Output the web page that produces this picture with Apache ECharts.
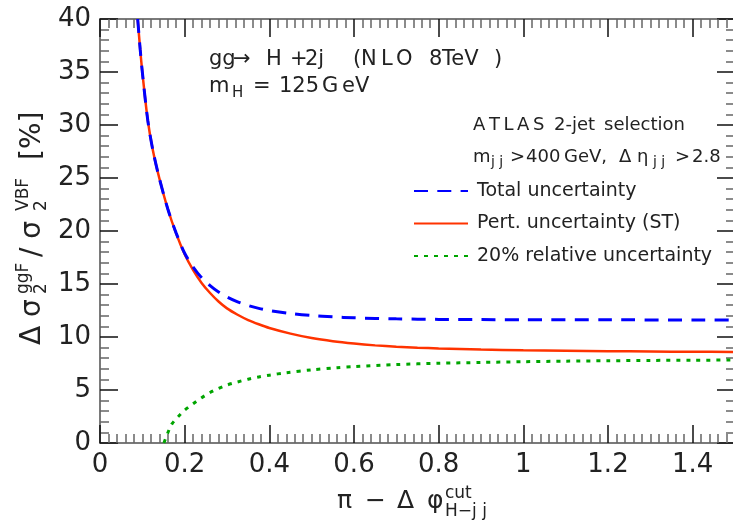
<!DOCTYPE html>
<html>
<head>
<meta charset="utf-8">
<script src="https://cdn.jsdelivr.net/npm/echarts@6/dist/echarts.min.js"></script>
<style>
  html, body { margin: 0; padding: 0; background: #fff; }
  #chart { width: 733px; height: 525px; }
</style>
</head>
<body>
<div id="chart"></div>
<script>
// Perturbative (scale) uncertainty, ST method
const xPert = [0.089, 0.095, 0.101, 0.113, 0.125, 0.140, 0.160, 0.180, 0.200, 0.220, 0.240, 0.260, 0.280, 0.300,
  0.325, 0.350, 0.375, 0.400, 0.450, 0.500, 0.550, 0.600, 0.650, 0.700, 0.750, 0.800, 0.900, 1.000, 1.100, 1.200, 1.300, 1.400, 1.500];
const yPert = [40.0, 37.1, 34.6, 30.4, 27.6, 25.0, 22.1, 19.75, 17.8, 16.3, 15.1, 14.15, 13.35, 12.7,
  12.1, 11.6, 11.2, 10.85, 10.32, 9.9, 9.6, 9.38, 9.21, 9.08, 8.99, 8.92, 8.82, 8.75, 8.70, 8.66, 8.63, 8.61, 8.59];

// Total uncertainty
const xTotal = [0.089, 0.095, 0.101, 0.113, 0.125, 0.140, 0.160, 0.180, 0.200, 0.220, 0.240, 0.260, 0.280, 0.300,
  0.325, 0.350, 0.375, 0.400, 0.450, 0.500, 0.550, 0.600, 0.700, 0.800, 0.900, 1.000, 1.200, 1.500];
const yTotal = [40.0, 37.1, 34.6, 30.4, 27.6, 25.0, 22.1, 19.8, 17.9, 16.6, 15.6, 14.85, 14.25, 13.78,
  13.32, 12.97, 12.7, 12.5, 12.22, 12.03, 11.9, 11.81, 11.71, 11.66, 11.64, 11.63, 11.62, 11.6];

// 20% relative uncertainty
const xRel = [0.151, 0.160, 0.170, 0.185, 0.200, 0.220, 0.240, 0.260, 0.280, 0.300, 0.325, 0.350, 0.375, 0.400,
  0.440, 0.500, 0.560, 0.600, 0.700, 0.800, 0.900, 1.000, 1.100, 1.200, 1.300, 1.400, 1.500];
const yRel = [0.0, 0.94, 1.8, 2.5, 3.1, 3.7, 4.27, 4.76, 5.15, 5.47, 5.76, 6.02, 6.23, 6.4,
  6.63, 6.9, 7.1, 7.2, 7.4, 7.52, 7.6, 7.67, 7.72, 7.76, 7.79, 7.81, 7.83];

const xTickValues = [0, 0.2, 0.4, 0.6, 0.8, 1, 1.2, 1.4];
const xTickLabels = ['0', '0.2', '0.4', '0.6', '0.8', '1', '1.2', '1.4'];
const yTickValues = [0, 5, 10, 15, 20, 25, 30, 35, 40];
const yTickLabels = ['0', '5', '10', '15', '20', '25', '30', '35', '40'];

const seriesNames = ['Total uncertainty', 'Pert. uncertainty (ST)', '20% relative uncertainty'];

const FONT = 'DejaVu Sans';
const TEXT = '#222';

function pairs(xs, ys) { return xs.map((x, i) => [x, ys[i]]); }

function labelFor(values, labels) {
  return function (v) {
    for (let i = 0; i < values.length; i++) {
      if (Math.abs(values[i] - v) < 1e-9) return labels[i];
    }
    return '';
  };
}

function xAxisDef(pos, showLabel) {
  return {
    type: 'value', position: pos, min: 0, max: 1.5, interval: 0.2,
    axisLine: { show: true, onZero: false, lineStyle: { color: '#7a7a7a', width: 2 } },
    axisTick: { show: true, inside: true, length: 18, lineStyle: { color: '#111', width: 1.5 } },
    minorTick: { show: true, splitNumber: 10, length: 9, lineStyle: { color: '#666', width: 1.5 } },
    splitLine: { show: false }, minorSplitLine: { show: false },
    axisLabel: {
      show: showLabel, showMaxLabel: false, margin: 9, color: TEXT,
      fontFamily: FONT, fontSize: 26, formatter: labelFor(xTickValues, xTickLabels)
    }
  };
}

function yAxisDef(pos, showLabel) {
  return {
    type: 'value', position: pos, min: 0, max: 40, interval: 5,
    axisLine: { show: true, onZero: false, lineStyle: { color: '#7a7a7a', width: 2 } },
    axisTick: { show: true, inside: true, length: 18, lineStyle: { color: '#111', width: 1.5 } },
    minorTick: { show: true, splitNumber: 5, length: 9, lineStyle: { color: '#666', width: 1.5 } },
    splitLine: { show: false }, minorSplitLine: { show: false },
    axisLabel: {
      show: showLabel, margin: 9, color: TEXT,
      fontFamily: FONT, fontSize: 26, formatter: labelFor(yTickValues, yTickLabels)
    }
  };
}

const fontOf = (s) => s + 'px "' + FONT + '"';

// a text piece placed by its left edge and its baseline
function piece(text, x, baseline, size) {
  return {
    type: 'text', x: x, y: baseline - 0.35 * size,
    style: { text: text, font: fontOf(size), fill: TEXT, verticalAlign: 'middle', align: 'left' }
  };
}

const annotations = [
  // process
  piece('gg', 209, 66.7, 21), piece('→', 233, 66.7, 21), piece('H', 266, 66.7, 21),
  piece('+', 290, 66.7, 21), piece('2j', 305, 66.7, 21), piece('(', 353, 66.7, 21),
  piece('N', 361, 66.7, 21), piece('L', 381, 66.7, 21), piece('O', 396, 66.7, 21),
  piece('8', 429, 66.7, 21), piece('TeV', 442, 66.7, 21), piece(')', 494, 66.7, 21),
  piece('m', 209, 94, 21), piece('H', 232, 98.5, 15), piece('=', 253, 94, 21),
  piece('125', 279, 94, 21), piece('G', 322, 94, 21), piece('eV', 342, 94, 21),
  // selection
  piece('A\u2009T\u2009L\u2009A\u2009S', 473, 131.7, 18), piece('2-jet', 554, 131.7, 18), piece('selection', 604, 131.7, 18),
  piece('m', 473, 163.3, 18), piece('j j', 491, 167, 14), piece('>', 510, 163.3, 18),
  piece('400', 526, 163.3, 18), piece('GeV,', 564, 163.3, 18), piece('Δ', 619, 163.3, 18),
  piece('η', 637, 163.3, 18), piece('j j', 653, 167, 14), piece('>', 675, 163.3, 18), piece('2.8', 692, 163.3, 18),
  // x-axis title
  piece('π', 337, 510, 25), piece('−', 365, 510, 25), piece('Δ', 397, 510, 25), piece('φ', 427, 510, 25),
  piece('cut', 445, 500, 17), piece('H−j j', 445, 518, 17)
];

const chart = echarts.init(document.getElementById('chart'), null, { renderer: 'canvas' });

chart.setOption({
  animation: false,
  backgroundColor: '#fff',
  grid: { left: 100, top: 19, right: -2, bottom: 82, containLabel: false, outerBoundsMode: 'none' },
  xAxis: [xAxisDef('bottom', true), xAxisDef('top', false)],
  yAxis: [yAxisDef('left', true), yAxisDef('right', false)],
  legend: {
    show: true, orient: 'vertical', left: 413, top: 181, padding: 0,
    itemWidth: 54, itemHeight: 14, itemGap: 12.5,
    data: seriesNames,
    itemStyle: { opacity: 0, borderWidth: 0 },
    textStyle: { fontFamily: FONT, fontSize: 19, color: TEXT, lineHeight: 20, padding: [0, 0, 0, 4] }
  },
  series: [
    {
      name: seriesNames[1], type: 'line', data: pairs(xPert, yPert),
      showSymbol: false, symbol: 'none', smooth: 0.3, clip: true,
      lineStyle: { color: '#ff3300', width: 2.5, type: 'solid' }, itemStyle: { color: '#ff3300' }, z: 2
    },
    {
      name: seriesNames[0], type: 'line', data: pairs(xTotal, yTotal),
      showSymbol: false, symbol: 'none', smooth: 0.3, clip: true,
      lineStyle: { color: '#0000ff', width: 3, type: [14, 9.3] }, itemStyle: { color: '#0000ff' }, z: 3
    },
    {
      name: seriesNames[2], type: 'line', data: pairs(xRel, yRel),
      showSymbol: false, symbol: 'none', smooth: 0.3, clip: true,
      lineStyle: { color: '#00a500', width: 3, type: [4, 6] }, itemStyle: { color: '#00a500' }, z: 3
    }
  ],
  graphic: annotations.concat([
    // y-axis title, reading bottom to top
    {
      type: 'group', x: 43, y: 345, rotation: Math.PI / 2,
      children: [
        { type: 'text', x: 0, y: -10, style: { text: 'Δ σ', font: fontOf(28), fill: TEXT, verticalAlign: 'middle' } },
        { type: 'text', x: 51, y: -19, style: { text: 'ggF', font: fontOf(17), fill: TEXT, verticalAlign: 'middle' } },
        { type: 'text', x: 51, y: -1, style: { text: '2', font: fontOf(17), fill: TEXT, verticalAlign: 'middle' } },
        { type: 'text', x: 88, y: -10, style: { text: '/ σ', font: fontOf(28), fill: TEXT, verticalAlign: 'middle' } },
        { type: 'text', x: 134, y: -19, style: { text: 'VBF', font: fontOf(17), fill: TEXT, verticalAlign: 'middle' } },
        { type: 'text', x: 134, y: -1, style: { text: '2', font: fontOf(17), fill: TEXT, verticalAlign: 'middle' } },
        { type: 'text', x: 185, y: -10, style: { text: '[%]', font: fontOf(28), fill: TEXT, verticalAlign: 'middle' } }
      ]
    }
  ])
});
</script>
</body>
</html>
